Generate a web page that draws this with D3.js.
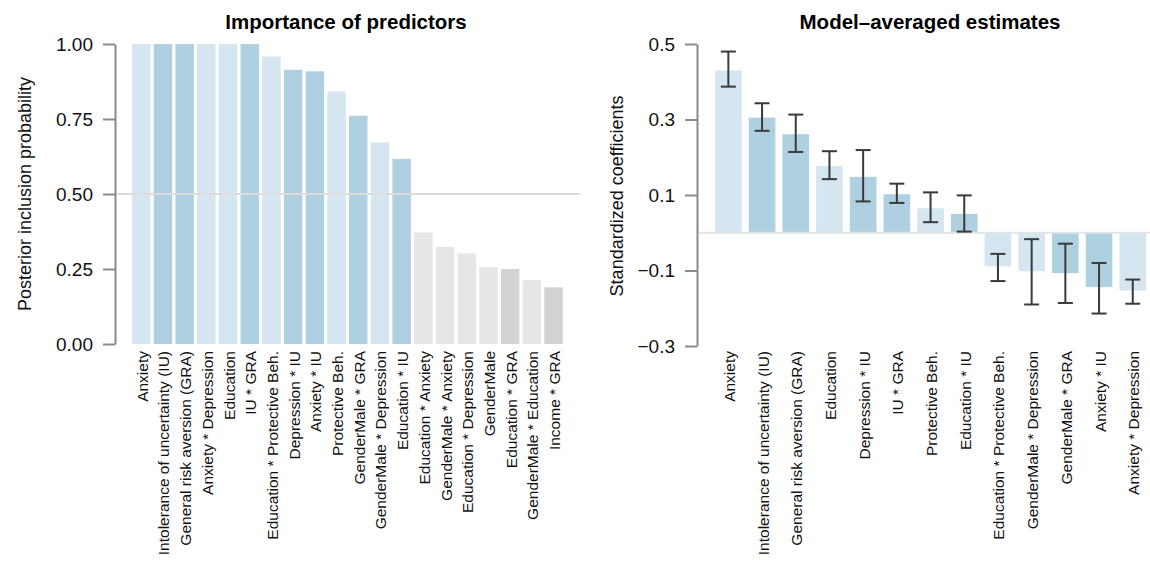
<!DOCTYPE html>
<html>
<head>
<meta charset="utf-8">
<script src="https://cdn.jsdelivr.net/npm/d3@7"></script>
<style>
  body { margin: 0; background: #fff; }
  svg { display: block; font-family: "Liberation Sans", Arial, Helvetica, sans-serif; }
</style>
</head>
<body>
<div id="chart"></div>
<script>
// left panel: posterior inclusion probabilities
const predictors = [
  'Anxiety', 'Intolerance of uncertainty (IU)', 'General risk aversion (GRA)', 'Anxiety * Depression',
  'Education', 'IU * GRA', 'Education * Protective Beh.', 'Depression * IU', 'Anxiety * IU',
  'Protective Beh.', 'GenderMale * GRA', 'GenderMale * Depression', 'Education * IU',
  'Education * Anxiety', 'GenderMale * Anxiety', 'Education * Depression', 'GenderMale',
  'Education * GRA', 'GenderMale * Education', 'Income * GRA'
];
const inclusionProb = [1.0, 1.0, 1.0, 1.0, 1.0, 1.0, 0.958, 0.914, 0.909, 0.842, 0.761, 0.672, 0.617,
  0.372, 0.324, 0.302, 0.256, 0.25, 0.213, 0.189];
const inclusionTone = [0, 1, 1, 0, 0, 1, 0, 1, 1, 0, 1, 0, 1, 0, 0, 0, 0, 1, 0, 1];
const inclusionTicks = [0, 0.25, 0.5, 0.75, 1.0];

// right panel: model-averaged standardized coefficients
const estimateTerms = [
  'Anxiety', 'Intolerance of uncertainty (IU)', 'General risk aversion (GRA)', 'Education',
  'Depression * IU', 'IU * GRA', 'Protective Beh.', 'Education * IU', 'Education * Protective Beh.',
  'GenderMale * Depression', 'GenderMale * GRA', 'Anxiety * IU', 'Anxiety * Depression'
];
const estimates = [0.43, 0.305, 0.261, 0.177, 0.148, 0.102, 0.065, 0.05, -0.089, -0.102, -0.107, -0.144, -0.153];
const ciLower = [0.387, 0.27, 0.214, 0.142, 0.083, 0.079, 0.028, 0.003, -0.128, -0.19, -0.186, -0.214, -0.188];
const ciUpper = [0.48, 0.343, 0.313, 0.216, 0.219, 0.13, 0.107, 0.099, -0.056, -0.017, -0.029, -0.08, -0.124];
const estimateTone = [0, 1, 1, 0, 1, 1, 0, 1, 0, 0, 1, 1, 0];
const estimateTicks = [0.5, 0.3, 0.1, -0.1, -0.3];

const WIDTH = 1150;
const HEIGHT = 562;
const svg = d3.select('#chart').append('svg').attr('width', WIDTH).attr('height', HEIGHT);

const blue = ['#d6e6f1', '#aed0e1'];
const grey = ['#e6e6e6', '#d2d2d2'];

// R style axis: plain line between end ticks
function drawYAxis(scale, x, ticks, fmt) {
  const g = svg
    .append('g')
    .attr('transform', 'translate(' + x + ',0)')
    .call(d3.axisLeft(scale).tickValues(ticks).tickFormat(fmt).tickSizeInner(12).tickSizeOuter(0).tickPadding(10));
  g.select('.domain').attr('stroke', '#8a8a8a').attr('stroke-width', 2);
  g.selectAll('.tick line').attr('stroke', '#8a8a8a').attr('stroke-width', 2);
  g.selectAll('.tick text').attr('fill', '#111').attr('font-size', 19);
  return g;
}

function drawXLabels(scale, names, y) {
  svg
    .append('g')
    .selectAll('text')
    .data(names)
    .join('text')
    .attr('transform', (d) => 'translate(' + (scale(d) + scale.bandwidth() / 2 + 6.5) + ',' + y + ') rotate(-90)')
    .attr('text-anchor', 'end')
    .attr('font-size', 15.5)
    .attr('fill', '#111')
    .text((d) => d);
}

// ---- left chart ----
const xLeft = d3.scaleBand().domain(predictors).range([130.4, 564.4]).paddingInner(0.15).paddingOuter(0.075);
const yLeft = d3.scaleLinear().domain([0, 1]).range([344, 44]);

svg
  .append('g')
  .selectAll('rect')
  .data(predictors)
  .join('rect')
  .attr('x', (d) => xLeft(d))
  .attr('width', xLeft.bandwidth())
  .attr('y', (d, i) => yLeft(inclusionProb[i]))
  .attr('height', (d, i) => yLeft(0) - yLeft(inclusionProb[i]))
  .attr('fill', (d, i) => (inclusionProb[i] >= 0.5 ? blue : grey)[inclusionTone[i]]);

svg
  .append('line')
  .attr('x1', 115)
  .attr('x2', 580)
  .attr('y1', yLeft(0.5))
  .attr('y2', yLeft(0.5))
  .attr('stroke', '#dcdcdc')
  .attr('stroke-width', 2);

drawYAxis(yLeft, 115, inclusionTicks, d3.format('.2f'));
drawXLabels(xLeft, predictors, 351);

svg
  .append('text')
  .attr('x', 346)
  .attr('y', 29)
  .attr('text-anchor', 'middle')
  .attr('font-weight', 'bold')
  .attr('font-size', 20.5)
  .text('Importance of predictors');

svg
  .append('text')
  .attr('transform', 'translate(31,194) rotate(-90)')
  .attr('text-anchor', 'middle')
  .attr('font-size', 18)
  .attr('fill', '#111')
  .text('Posterior inclusion probability');

// ---- right chart ----
const xRight = d3.scaleBand().domain(estimateTerms).range([711.5, 1149.6]).paddingInner(0.21).paddingOuter(0.105);
const yRight = d3.scaleLinear().domain([-0.3, 0.5]).range([346, 44]);

svg
  .append('g')
  .selectAll('rect')
  .data(estimateTerms)
  .join('rect')
  .attr('x', (d) => xRight(d))
  .attr('width', xRight.bandwidth())
  .attr('y', (d, i) => yRight(Math.max(0, estimates[i])))
  .attr('height', (d, i) => Math.abs(yRight(estimates[i]) - yRight(0)))
  .attr('fill', (d, i) => blue[estimateTone[i]]);

svg
  .append('line')
  .attr('x1', 699)
  .attr('x2', WIDTH)
  .attr('y1', yRight(0))
  .attr('y2', yRight(0))
  .attr('stroke', '#e0e4e8')
  .attr('stroke-width', 2);

// error bars
const errG = svg
  .append('g')
  .selectAll('g')
  .data(estimateTerms)
  .join('g')
  .attr('transform', (d) => 'translate(' + (xRight(d) + xRight.bandwidth() / 2) + ',0)')
  .attr('stroke', '#3a3a3a')
  .attr('stroke-width', 2);
errG
  .append('line')
  .attr('y1', (d, i) => yRight(ciLower[i]))
  .attr('y2', (d, i) => yRight(ciUpper[i]));
errG
  .append('line')
  .attr('x1', -7.5)
  .attr('x2', 7.5)
  .attr('y1', (d, i) => yRight(ciLower[i]))
  .attr('y2', (d, i) => yRight(ciLower[i]));
errG
  .append('line')
  .attr('x1', -7.5)
  .attr('x2', 7.5)
  .attr('y1', (d, i) => yRight(ciUpper[i]))
  .attr('y2', (d, i) => yRight(ciUpper[i]));

drawYAxis(yRight, 697, estimateTicks, d3.format('.1f'));
drawXLabels(xRight, estimateTerms, 351);

svg
  .append('text')
  .attr('x', 930)
  .attr('y', 29)
  .attr('text-anchor', 'middle')
  .attr('font-weight', 'bold')
  .attr('font-size', 20.5)
  .text('Model\u2013averaged estimates');

svg
  .append('text')
  .attr('transform', 'translate(623,196) rotate(-90)')
  .attr('text-anchor', 'middle')
  .attr('font-size', 18)
  .attr('fill', '#111')
  .text('Standardized coefficients');
</script>
</body>
</html>
